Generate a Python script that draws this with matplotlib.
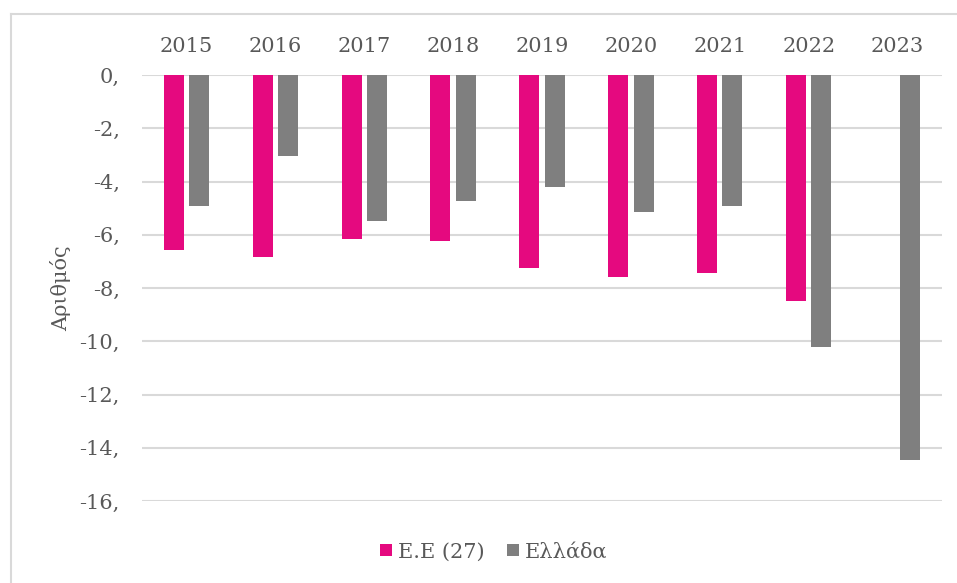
import numpy as np
import matplotlib.pyplot as plt
from matplotlib.lines import Line2D

years = ['2015', '2016', '2017', '2018', '2019', '2020', '2021', '2022', '2023']
eu27 = [-6.57, -6.82, -6.16, -6.22, -7.25, -7.58, -7.45, -8.47, np.nan]
greece = [-4.93, -3.03, -5.48, -4.75, -4.22, -5.16, -4.91, -10.22, -14.46]
series_names = ['Ε.Ε (27)', 'Ελλάδα']
y_ticks = [0, -2, -4, -6, -8, -10, -12, -14, -16]

PINK = '#E5097F'
GREY = '#7F7F7F'
TEXT = '#595959'
GRID = '#D9D9D9'

plt.rcParams['font.family'] = ['DejaVu Serif']

fig = plt.figure(figsize=(9.57, 5.83), dpi=100)
ax = fig.add_axes([142 / 957, 1 - 501 / 583, 800 / 957, 426 / 583])

x = np.arange(len(years))
w = 0.225
off = 0.143
ax.bar(x - off, eu27, width=w, color=PINK, label=series_names[0], zorder=3)
ax.bar(x + off, greece, width=w, color=GREY, label=series_names[1], zorder=3)

ax.set_xlim(-0.5, len(years) - 0.5)
ax.set_ylim(-16, 0)
ax.set_yticks(y_ticks)
ax.set_yticklabels([f'{v},' for v in y_ticks])
ax.yaxis.grid(True, color=GRID, linewidth=1.5, zorder=0)
ax.set_axisbelow(True)

# year labels sit above the zero line
ax.xaxis.tick_top()
ax.set_xticks(x)
ax.set_xticklabels(years)
ax.tick_params(axis='x', length=0, pad=14, labelsize=15, colors=TEXT)
ax.tick_params(axis='y', length=0, pad=16, labelsize=15, colors=TEXT)
for s in ax.spines.values():
    s.set_visible(False)

ax.set_ylabel('Αριθμός', fontsize=15, color=TEXT, labelpad=6)

leg = fig.legend(loc='center', bbox_to_anchor=(0.516, 1 - 552 / 583), ncol=2,
                 frameon=False, fontsize=15, handlelength=0.55, handleheight=0.55,
                 handletextpad=0.3, columnspacing=1.1)
for t in leg.get_texts():
    t.set_color(TEXT)

# chart frame: top and left edges only
fig.add_artist(Line2D([11 / 957, 1], [1 - 14 / 583, 1 - 14 / 583],
                      transform=fig.transFigure, color=GRID, linewidth=1.5))
fig.add_artist(Line2D([11 / 957, 11 / 957], [0, 1 - 14 / 583],
                      transform=fig.transFigure, color=GRID, linewidth=1.5))

fig.savefig('out.png', dpi=100)
